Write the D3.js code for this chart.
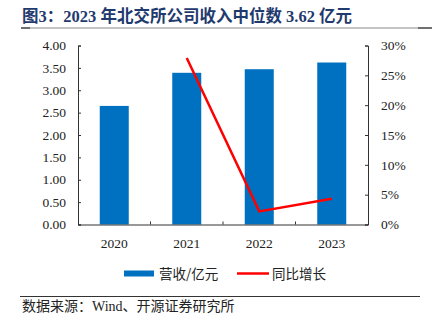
<!DOCTYPE html>
<html><head><meta charset="utf-8">
<script src="https://cdn.jsdelivr.net/npm/d3@7"></script>
<style>
body{margin:0;background:#fff;}
svg{display:block;}
</style></head>
<body><svg id="c" width="434" height="324"></svg>
<script>
const categories = ["2020","2021","2022","2023"];
const revenue = [2.65, 3.39, 3.47, 3.62];
const growth = [null, 0.279, 0.022, 0.043];
const leftTicks = [0,0.5,1,1.5,2,2.5,3,3.5,4];
const rightTicks = [0,0.05,0.10,0.15,0.20,0.25,0.30];
const titleText = "图3：2023 年北交所公司收入中位数 3.62 亿元";
const legendLabels = ["营收/亿元","同比增长"];
const sourceText = "数据来源：Wind、开源证券研究所";

const svg = d3.select("#c");
const fontNum = "'Times New Roman','Liberation Serif','Noto Sans CJK SC',serif";
const m = {l:78, r:368, t:45.5, b:224.5};

const x = d3.scaleBand().domain(categories).range([m.l, m.r]).paddingInner(0.6).paddingOuter(0.3);
const xb = d3.scaleBand().domain(categories).range([m.l, m.r]);
const yL = d3.scaleLinear().domain([0,4]).range([m.b, m.t]);
const yR = d3.scaleLinear().domain([0,0.30]).range([m.b, m.t]);

// title
svg.append("text").attr("x",22).attr("y",22)
  .attr("font-family","'Times New Roman','Liberation Serif','Noto Sans CJK SC',serif")
  .attr("font-weight","bold").attr("font-size",16.5).attr("fill","#1F3A6E")
  .text(titleText);
svg.append("line").attr("x1",21).attr("x2",432).attr("y1",28).attr("y2",28)
  .attr("stroke","#b0b0b0").attr("stroke-width",1.5);
svg.append("line").attr("x1",21).attr("x2",30).attr("y1",28).attr("y2",28)
  .attr("stroke","#555").attr("stroke-width",1.5);
svg.append("line").attr("x1",418).attr("x2",432).attr("y1",28).attr("y2",28)
  .attr("stroke","#555").attr("stroke-width",1.5);

// bars
svg.append("g").selectAll("rect").data(revenue).join("rect")
  .attr("x",(d,i)=>x(categories[i])).attr("width",x.bandwidth())
  .attr("y",d=>yL(d)).attr("height",d=>yL(0)-yL(d))
  .attr("fill","#0070C0");

// axes
const axL = svg.append("g").attr("transform",`translate(${m.l},0)`)
  .call(d3.axisRight(yL).tickValues(leftTicks).tickSize(3).tickFormat(""));
svg.append("g").selectAll("text").data(leftTicks).join("text")
  .attr("x",66).attr("y",d=>yL(d)).attr("dy","0.35em").attr("text-anchor","end")
  .attr("font-family",fontNum).attr("font-size",13.5).attr("fill","#222")
  .text(d=>d3.format(".2f")(d));

const axR = svg.append("g").attr("transform",`translate(${m.r},0)`)
  .call(d3.axisLeft(yR).tickValues(rightTicks).tickSize(3).tickFormat(""));
svg.append("g").selectAll("text").data(rightTicks).join("text")
  .attr("x",381).attr("y",d=>yR(d)).attr("dy","0.35em").attr("text-anchor","start")
  .attr("font-family",fontNum).attr("font-size",13.5).attr("fill","#222")
  .text(d=>d3.format(".0%")(d));

const axX = svg.append("g").attr("transform",`translate(0,${m.b})`)
  .call(d3.axisTop(xb).tickSize(0).tickFormat(""));
svg.append("g").selectAll("line").data(categories.slice(1)).join("line")
  .attr("x1",d=>xb(d)).attr("x2",d=>xb(d)).attr("y1",m.b).attr("y2",m.b-3)
  .attr("stroke","#333");
svg.append("g").selectAll("text").data(categories).join("text")
  .attr("x",d=>xb(d)+xb.bandwidth()/2).attr("y",248).attr("text-anchor","middle")
  .attr("font-family",fontNum).attr("font-size",13.5).attr("fill","#222")
  .text(d=>d);
[axL,axR,axX].forEach(a=>{a.selectAll("path,line").attr("stroke","#333");});

// line
const pts = growth.map((g,i)=>({c:categories[i],g})).filter(d=>d.g!==null);
svg.append("path").datum(pts)
  .attr("d",d3.line().x(d=>xb(d.c)+xb.bandwidth()/2).y(d=>yR(d.g)))
  .attr("fill","none").attr("stroke","#FF0000").attr("stroke-width",2.5);

// legend
svg.append("rect").attr("x",124).attr("y",270.5).attr("width",30).attr("height",6).attr("fill","#0070C0");
svg.append("text").attr("x",159).attr("y",278.5).attr("font-family","'Noto Sans CJK SC',sans-serif")
  .attr("font-size",13.5).attr("fill","#222").text(legendLabels[0]);
svg.append("line").attr("x1",237).attr("x2",269).attr("y1",273.5).attr("y2",273.5)
  .attr("stroke","#FF0000").attr("stroke-width",2.5);
svg.append("text").attr("x",272).attr("y",278.5).attr("font-family","'Noto Sans CJK SC',sans-serif")
  .attr("font-size",13.5).attr("fill","#222").text(legendLabels[1]);

// source
svg.append("line").attr("x1",20).attr("x2",420).attr("y1",296.5).attr("y2",296.5)
  .attr("stroke","#333").attr("stroke-width",1);
svg.append("text").attr("x",22).attr("y",311).attr("font-family","'Times New Roman','Liberation Serif','Noto Sans CJK SC',serif")
  .attr("font-size",14).attr("fill","#222").text(sourceText);
</script></body></html>
